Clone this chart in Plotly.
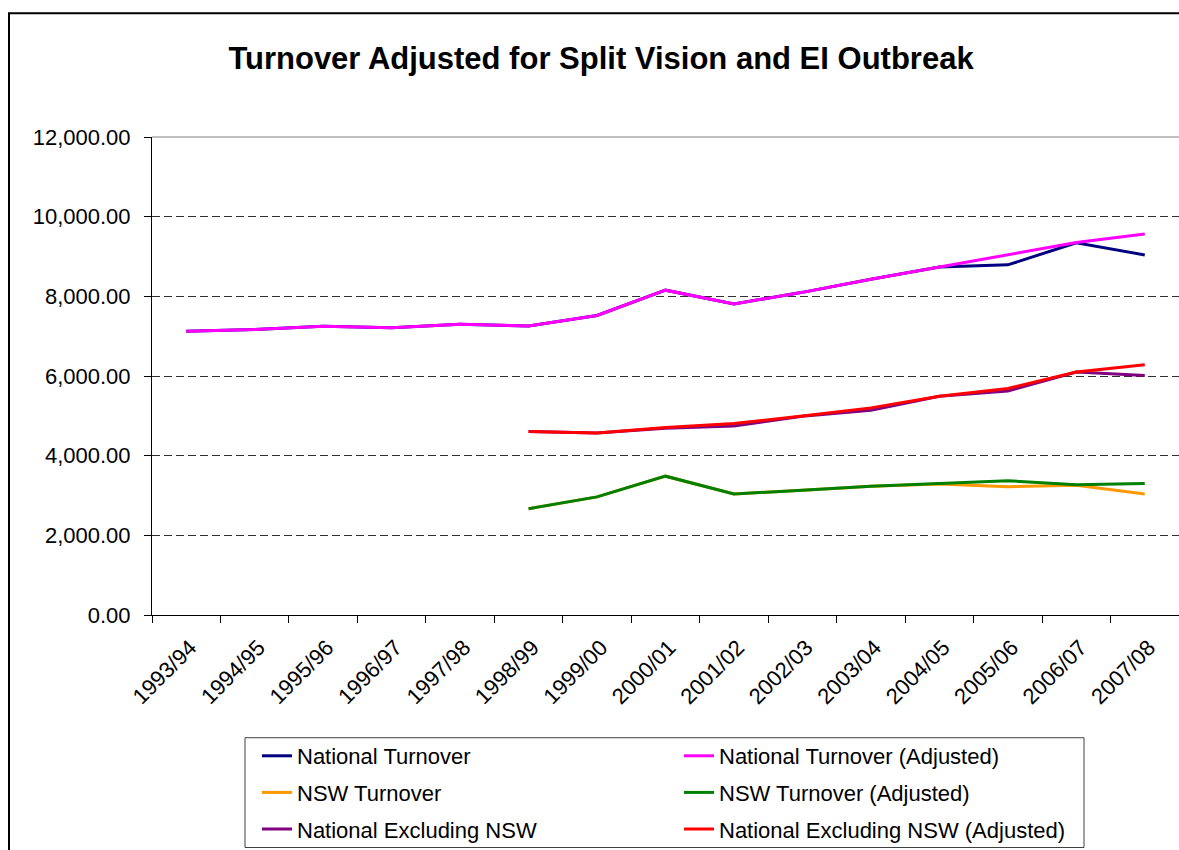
import plotly.graph_objects as go

years = ["1993/94", "1994/95", "1995/96", "1996/97", "1997/98", "1998/99", "1999/00",
         "2000/01", "2001/02", "2002/03", "2003/04", "2004/05", "2005/06", "2006/07", "2007/08"]

national = [7125, 7170, 7250, 7210, 7300, 7255, 7520, 8155, 7810, 8100, 8430, 8735, 8790, 9345, 9040]
national_adj = [7125, 7170, 7250, 7210, 7300, 7255, 7520, 8155, 7810, 8100, 8430, 8735, 9055, 9350, 9565]
nsw = [None, None, None, None, None, 2670, 2965, 3485, 3040, 3130, 3230, 3290, 3220, 3260, 3035]
nsw_adj = [None, None, None, None, None, 2670, 2965, 3485, 3040, 3130, 3230, 3300, 3370, 3270, 3300]
excl = [None, None, None, None, None, 4605, 4570, 4690, 4745, 4990, 5140, 5490, 5625, 6100, 6015]
excl_adj = [None, None, None, None, None, 4605, 4570, 4705, 4805, 4995, 5200, 5490, 5685, 6100, 6285]

# (name, values, colour, legend column)
series = [
    ("National Turnover", national, "#000080", "legend"),
    ("National Turnover (Adjusted)", national_adj, "#FF00FF", "legend2"),
    ("NSW Turnover", nsw, "#FF9900", "legend"),
    ("NSW Turnover (Adjusted)", nsw_adj, "#008000", "legend2"),
    ("National Excluding NSW", excl, "#800080", "legend"),
    ("National Excluding NSW (Adjusted)", excl_adj, "#FF0000", "legend2"),
]

FONT = "Liberation Sans, Arial, sans-serif"
FS = 22
W, H = 1179, 850
L, R, T, B = 152, 0, 137, 234
PW = W - L - R
PH = H - T - B


def px_x(p):
    return (p - L) / PW


def px_y(p):
    return (H - B - p) / PH


fig = go.Figure()
for i, (name, vals, col, leg) in enumerate(series):
    fig.add_trace(go.Scatter(x=years, y=vals, name=name, mode="lines",
                             line=dict(color=col, width=3), connectgaps=False,
                             legend=leg, legendgroup="g%d" % i))

leg_common = dict(orientation="v", yanchor="top", xanchor="left", bgcolor="rgba(0,0,0,0)",
                  borderwidth=0, font=dict(family=FONT, size=FS), tracegroupgap=5,
                  traceorder="grouped", itemwidth=30)

fig.update_layout(
    width=W, height=H,
    margin=dict(l=L, r=R, t=T, b=B, pad=0),
    paper_bgcolor="white", plot_bgcolor="white",
    font=dict(family=FONT, color="black", size=FS),
    title=dict(text="<b>Turnover Adjusted for Split Vision and EI Outbreak</b>",
               font=dict(family=FONT, size=31, color="black"),
               xref="container", x=601 / W, xanchor="center",
               yref="container", y=1 - 58 / H, yanchor="middle"),
    showlegend=True,
    legend=dict(x=px_x(257), y=px_y(736), **leg_common),
    legend2=dict(x=px_x(679), y=px_y(736), **leg_common),
    xaxis=dict(type="category", range=[-0.5, 14.5], showline=True, linecolor="black", linewidth=1,
               ticks="outside", ticklen=7, tickcolor="black", tickson="boundaries",
               tickangle=-45, showgrid=False, zeroline=False,
               ticklabelstandoff=10, ticklabelshift=4,
               tickfont=dict(family=FONT, size=FS)),
    yaxis=dict(range=[0, 12000], tickvals=[0, 2000, 4000, 6000, 8000, 10000, 12000],
               tickformat=",.2f", showline=True, linecolor="black", linewidth=1,
               ticks="outside", ticklen=7, tickcolor="black",
               showgrid=True, gridcolor="#303030", gridwidth=1, griddash="8px,4px",
               zeroline=False, ticklabelstandoff=9,
               tickfont=dict(family=FONT, size=FS)),
)

# plot-area top border (gray) and outer chart border
fig.add_shape(type="line", xref="paper", yref="paper", x0=0, x1=1.01, y0=1, y1=1,
              line=dict(color="#808080", width=1), layer="above")
fig.add_shape(type="rect", xref="paper", yref="paper",
              x0=px_x(9), x1=px_x(1200), y0=px_y(870), y1=px_y(13),
              line=dict(color="black", width=2), layer="above")
# legend frame
fig.add_shape(type="rect", xref="paper", yref="paper",
              x0=px_x(245), x1=px_x(1084), y0=px_y(849), y1=px_y(739),
              line=dict(color="#404040", width=1), layer="below")

fig.write_html("out.html")
